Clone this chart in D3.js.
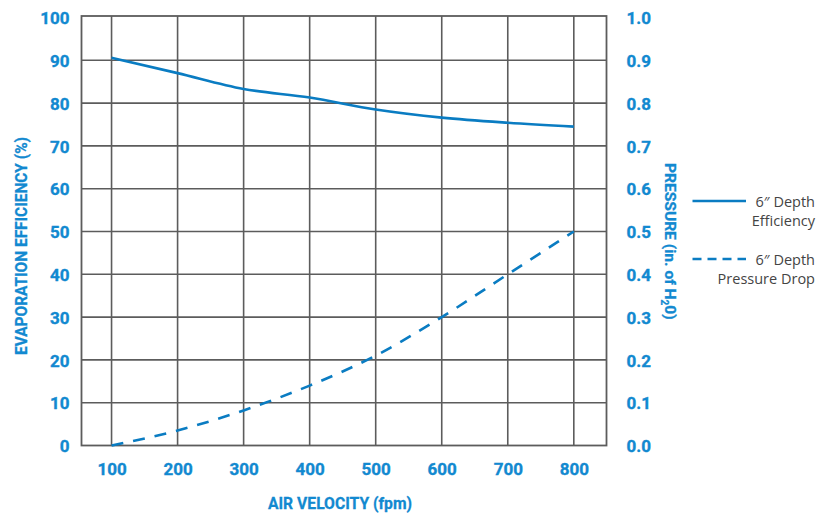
<!DOCTYPE html>
<html>
<head>
<meta charset="utf-8">
<script src="https://cdn.jsdelivr.net/npm/d3@7"></script>
<style>
  html, body { margin: 0; padding: 0; background: #fff; }
  svg { display: block; }
</style>
</head>
<body>
<svg id="chart" width="830" height="516"></svg>
<script>
const velocities = [100, 200, 300, 400, 500, 600, 700, 800];
const efficiency = [90.6, 87.0, 83.3, 81.3, 78.5, 76.6, 75.4, 74.5];
const pressureDrop = [0.0, 0.035, 0.082, 0.14, 0.21, 0.30, 0.40, 0.50];
const xTicks = [100, 200, 300, 400, 500, 600, 700, 800];
const leftTicks = [0, 10, 20, 30, 40, 50, 60, 70, 80, 90, 100];
const rightTicks = [0.0, 0.1, 0.2, 0.3, 0.4, 0.5, 0.6, 0.7, 0.8, 0.9, 1.0];
const legendItems = [
  { lines: ["6\u2033 Depth", "Efficiency"], dash: null },
  { lines: ["6\u2033 Depth", "Pressure Drop"], dash: "9,6" }
];

const blue = "#0a7cc2";
const labelBlue = "#1289d0";
const gridColor = "#5c5c5c";
const font = "Roboto, 'Open Sans', sans-serif";

const svg = d3.select("#chart");
const L = 81.5, R = 606.5, T = 16, B = 445.5;

const x = d3.scaleLinear().domain([54.5, 849.5]).range([L, R]);
const yL = d3.scaleLinear().domain([0, 100]).range([B, 17.5]);
const yR = d3.scaleLinear().domain([0, 1]).range([B, 17.5]);

const g = svg.append("g");

// grid
g.selectAll("line.v").data(xTicks).enter().append("line")
  .attr("x1", d => x(d)).attr("x2", d => x(d))
  .attr("y1", T).attr("y2", B)
  .attr("stroke", gridColor).attr("stroke-width", 1.6);
g.selectAll("line.h").data(leftTicks.filter(d => d > 0 && d < 100)).enter().append("line")
  .attr("x1", L).attr("x2", R)
  .attr("y1", d => yL(d)).attr("y2", d => yL(d))
  .attr("stroke", gridColor).attr("stroke-width", 1.6);
// frame
g.append("rect").attr("x", L).attr("y", T).attr("width", R - L).attr("height", B - T)
  .attr("fill", "none").attr("stroke", gridColor).attr("stroke-width", 1.8);

function styleTicks(sel) {
  sel.selectAll("text").attr("fill", labelBlue).attr("font-family", font)
    .attr("font-weight", 700).attr("font-size", 17)
    .attr("stroke", labelBlue).attr("stroke-width", 0.35);
}

// left tick labels
const yAxisL = d3.axisLeft(yL).tickValues(leftTicks).tickSize(0).tickPadding(12)
  .tickFormat(d3.format("d"));
const gl = svg.append("g").attr("transform", `translate(${L},0)`).call(yAxisL);
gl.select(".domain").remove();
styleTicks(gl);
gl.selectAll("text").attr("dy", "0.36em");

// right tick labels
const yAxisR = d3.axisRight(yR).tickValues(rightTicks).tickSize(0).tickPadding(20)
  .tickFormat(d3.format(".1f"));
const gr = svg.append("g").attr("transform", `translate(${R},0)`).call(yAxisR);
gr.select(".domain").remove();
styleTicks(gr);
gr.selectAll("text").attr("dy", "0.36em");

// x tick labels
const xAxis = d3.axisBottom(x).tickValues(xTicks).tickSize(0).tickPadding(17)
  .tickFormat(d3.format("d"));
const gx = svg.append("g").attr("transform", `translate(0,${B})`).call(xAxis);
gx.select(".domain").remove();
styleTicks(gx);

// axis titles
svg.append("text").attr("x", 340).attr("y", 509).attr("text-anchor", "middle")
  .attr("fill", labelBlue).attr("font-family", font).attr("font-weight", 700)
  .attr("stroke", labelBlue).attr("stroke-width", 0.3)
  .attr("font-size", 17).attr("textLength", 144).attr("lengthAdjust", "spacingAndGlyphs")
  .text("AIR VELOCITY (fpm)");

svg.append("text").attr("transform", "translate(27,246) rotate(-90)")
  .attr("text-anchor", "middle")
  .attr("fill", labelBlue).attr("font-family", font).attr("font-weight", 700)
  .attr("stroke", labelBlue).attr("stroke-width", 0.3)
  .attr("font-size", 16).attr("textLength", 218).attr("lengthAdjust", "spacingAndGlyphs")
  .text("EVAPORATION EFFICIENCY (%)");

const rt = svg.append("text").attr("transform", "translate(665,163) rotate(90)")
  .attr("text-anchor", "start")
  .attr("fill", labelBlue).attr("font-family", font).attr("font-weight", 700)
  .attr("stroke", labelBlue).attr("stroke-width", 0.3)
  .attr("font-size", 15.5);
rt.append("tspan").text("PRESSURE (in. of H");
rt.append("tspan").attr("font-size", 10).attr("dy", 4).text("2");
rt.append("tspan").attr("dy", -4).text("0)");
(function () {
  const len = rt.node().getComputedTextLength();
  const target = 157;
  if (len > 0) rt.attr("transform", `translate(665,163) rotate(90) scale(${target / len},1)`);
})();

// lines
const effData = velocities.map((v, i) => [v, efficiency[i]]);
const prData = velocities.map((v, i) => [v, pressureDrop[i]]);

svg.append("path").datum(effData)
  .attr("fill", "none").attr("stroke", blue).attr("stroke-width", 2.6)
  .attr("d", d3.line().x(d => x(d[0])).y(d => yL(d[1])).curve(d3.curveMonotoneX));

svg.append("path").datum(prData)
  .attr("fill", "none").attr("stroke", blue).attr("stroke-width", 2.6)
  .attr("stroke-dasharray", "12,10")
  .attr("d", d3.line().x(d => x(d[0])).y(d => yR(d[1])).curve(d3.curveMonotoneX));

// legend
const legY = [201, 259];
legendItems.forEach((it, i) => {
  const y0 = legY[i];
  svg.append("line").attr("x1", 692.5).attr("x2", 746).attr("y1", y0).attr("y2", y0)
    .attr("stroke", blue).attr("stroke-width", 2.6)
    .attr("stroke-dasharray", it.dash);
  it.lines.forEach((t, j) => {
    svg.append("text").attr("x", 815).attr("y", y0 + 6 + j * 18.5)
      .attr("text-anchor", "end").attr("fill", "#444")
      .attr("font-family", "'Open Sans', 'Noto Sans', sans-serif")
      .attr("font-size", 14.5).text(t);
  });
});
</script>
</body>
</html>
